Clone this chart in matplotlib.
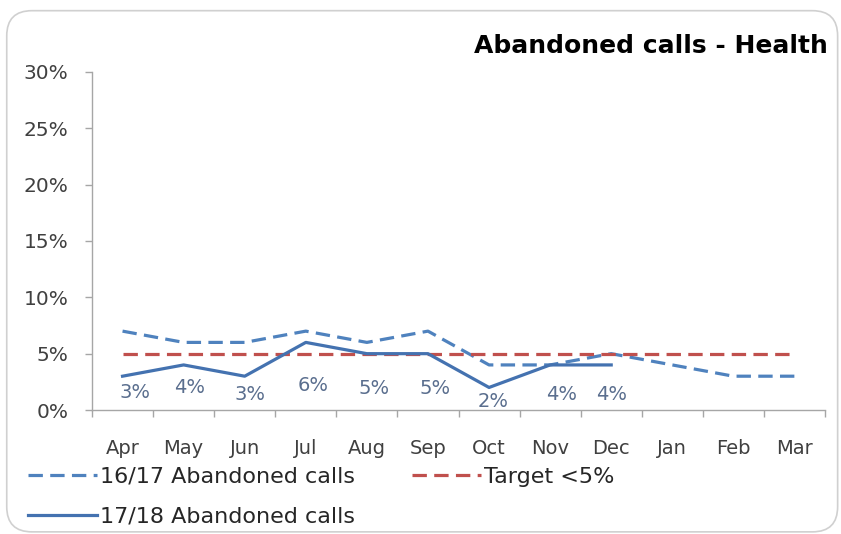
import numpy as np
import matplotlib
matplotlib.use("Agg")
import matplotlib.pyplot as plt
from matplotlib.patches import FancyBboxPatch
from matplotlib.ticker import FuncFormatter, MultipleLocator

# data
months = ["Apr", "May", "Jun", "Jul", "Aug", "Sep", "Oct", "Nov", "Dec", "Jan", "Feb", "Mar"]
calls_1617 = [7, 6, 6, 7, 6, 7, 4, 4, 5, 4, 3, 3]
calls_1718 = [3, 4, 3, 6, 5, 5, 2, 4, 4]
target = [5] * 12
label_1617 = "16/17 Abandoned calls"
label_1718 = "17/18 Abandoned calls"
label_target = "Target <5%"
title = "Abandoned calls - Health"

# data label placement, offset in points from each point
lab_dx = [9, 4, 4, 5, 5, 5, 3, 8, 0]
lab_dy = [-12, -16, -13, -31, -25, -25, -10, -21, -21]

plt.rcParams["font.family"] = ["DejaVu Sans"]

fig = plt.figure(figsize=(8.41, 5.34), dpi=100)
ax = fig.add_axes([92 / 841, 1 - 410 / 534, (825 - 92) / 841, (410 - 72) / 534])

# rounded frame round the whole chart
frame = FancyBboxPatch((0.008, 0.004), 0.988, 0.976, boxstyle="round,pad=0,rounding_size=0.03",
                       transform=fig.transFigure, facecolor="white", edgecolor="#D0D0D0",
                       linewidth=1.2, zorder=-10, mutation_aspect=841 / 534)
fig.patches.append(frame)

x = np.arange(len(months))
blue_d = "#4F82BE"
blue_s = "#4472B0"
red = "#C0504D"

l1, = ax.plot(x, np.array(calls_1617) / 100, color=blue_d, lw=2.3, dashes=(4.5, 2.3))
l2, = ax.plot(x, np.array(target) / 100, color=red, lw=2.3, dashes=(4.5, 2.3))
l3, = ax.plot(x[:len(calls_1718)], np.array(calls_1718) / 100, color=blue_s, lw=2.3)

for i, v in enumerate(calls_1718):
    ax.annotate(f"{v}%", xy=(i, v / 100), xytext=(lab_dx[i], lab_dy[i]), textcoords="offset points",
                ha="center", va="center", fontsize=14, color="#5A6E8E")

ax.set_xlim(-0.5, len(months) - 0.5)
ax.set_ylim(0, 0.30)
ax.yaxis.set_major_locator(MultipleLocator(0.05))
ax.yaxis.set_major_formatter(FuncFormatter(lambda v, p: f"{v*100:.0f}%"))
ax.set_xticks(x)
ax.set_xticklabels(months)
ax.set_xticks(np.arange(-0.5, len(months), 1), minor=True)
ax.tick_params(axis="x", which="major", length=0, pad=21, labelsize=14, labelcolor="#404040")
ax.tick_params(axis="x", which="minor", length=5, color="#A6A6A6", width=1)
ax.tick_params(axis="y", length=5, color="#A6A6A6", width=1, pad=12, labelsize=14.5, labelcolor="#404040")
for s in ["top", "right"]:
    ax.spines[s].set_visible(False)
for s in ["left", "bottom"]:
    ax.spines[s].set_color("#A6A6A6")
    ax.spines[s].set_linewidth(1)

fig.text(828 / 841, 1 - 46 / 534, title, ha="right", va="center", fontsize=18, fontweight="bold", color="black")

fig.legend([l1, l3, l2], [label_1617, label_1718, label_target], ncol=2, loc="upper left",
           bbox_to_anchor=(28 / 841, 1 - 467 / 534), frameon=False, fontsize=16, handlelength=3.1,
           handletextpad=0.15, columnspacing=2.55, labelspacing=0.9, borderpad=0, borderaxespad=0,
           labelcolor="#262626")

fig.savefig("out.png", dpi=100)
